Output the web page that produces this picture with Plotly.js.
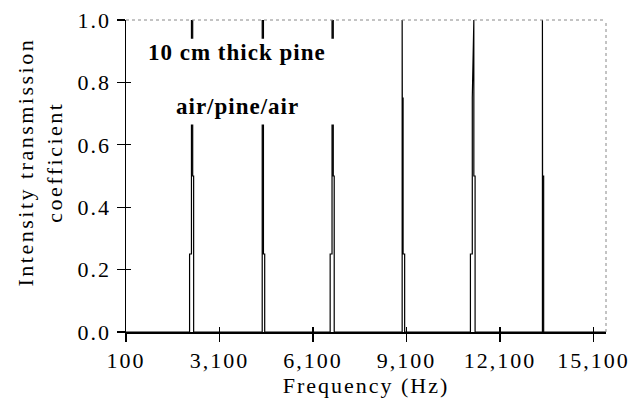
<!DOCTYPE html>
<html>
<head>
<meta charset="utf-8">
<script src="https://cdn.plot.ly/plotly-3.0.1.min.js"></script>
<style>
html,body{margin:0;padding:0;background:#fff;}
#chart{width:637px;height:411px;}
#chart .xtick text, #chart .ytick text, #chart .g-xtitle text { letter-spacing: 2px; }
#chart g.annotation[data-index="2"] text { letter-spacing: 2.5px; }
#chart g.annotation[data-index="0"] text, #chart g.annotation[data-index="1"] text { letter-spacing: 1px; }
</style>
</head>
<body>
<div id="chart"></div>
<script>
// Data (frequency in Hz, intensity transmission coefficient)
const freqHz = [100,
  2140, 2140, 2200, 2200, 2240, 2240, 2270, 2270,
  4470, 4470, 4510, 4510, 4550, 4550,
  6650, 6650, 6710, 6710, 6750, 6750, 6780, 6780,
  8960, 8960, 8965, 8990, 8990, 9040, 9040,
  11150, 11150, 11210, 11210, 11260, 11260, 11300, 11300,
  13460, 13460, 13465, 13500, 13500,
  15500];
const transmission = [0,
  0, 0.25, 0.25, 1, 1, 0.5, 0.5, 0,
  0, 1, 1, 0.25, 0.25, 0,
  0, 0.25, 0.25, 1, 1, 0.5, 0.5, 0,
  0, 1, 0.75, 0.75, 0.25, 0.25, 0,
  0, 0.25, 0.25, 0.75, 1, 0.5, 0.5, 0,
  0, 1, 0.5, 0.5, 0,
  0];
const xTickVals = [100, 3100, 6100, 9100, 12100, 15100];
const yTickVals = [0, 0.2, 0.4, 0.6, 0.8, 1.0];
const labelLines = ["10 cm thick pine", "air/pine/air"];

const serif = "Liberation Serif, Times New Roman, serif";
const xRange = [100, 15500];
const yRange = [0, 1];

const traces = [
  {x: freqHz, y: transmission, type: 'scatter', mode: 'lines',
   line: {color: '#000', width: 1.2}, hoverinfo: 'skip', showlegend: false},
  {x: [], y: [], xaxis: 'x2', yaxis: 'y2', type: 'scatter', mode: 'lines', showlegend: false}
];

const layout = {
  width: 637, height: 411,
  margin: {l: 126, r: 31, t: 20, b: 79},
  paper_bgcolor: '#fff', plot_bgcolor: '#fff',
  font: {family: serif, color: '#000', size: 22},
  xaxis: {
    range: xRange, tickvals: xTickVals, tickformat: ',d',
    showgrid: false, zeroline: false, showline: true, linecolor: '#000', linewidth: 1.5,
    ticks: 'outside', ticklen: 8, tickwidth: 1.3, tickcolor: '#000',
    tickfont: {family: serif, size: 22, color: '#000'},
    title: {text: 'Frequency (Hz)', font: {family: serif, size: 22, color: '#000'}, standoff: 2}
  },
  yaxis: {
    range: yRange, tickvals: yTickVals, tickformat: '.1f',
    showgrid: false, zeroline: false, showline: true, linecolor: '#000', linewidth: 1.5,
    ticks: 'outside', ticklen: 8, tickwidth: 1.3, tickcolor: '#000',
    ticklabelstandoff: 1,
    tickfont: {family: serif, size: 22, color: '#000'}
  },
  xaxis2: {range: xRange, overlaying: 'x', anchor: 'y', side: 'bottom', tickvals: xTickVals,
    ticks: 'inside', ticklen: 5, tickwidth: 1.3, tickcolor: '#000', showticklabels: false,
    showgrid: false, zeroline: false, showline: false},
  yaxis2: {range: yRange, overlaying: 'y', anchor: 'x', side: 'left', tickvals: yTickVals,
    ticks: 'inside', ticklen: 5, tickwidth: 1.3, tickcolor: '#000', showticklabels: false,
    showgrid: false, zeroline: false, showline: false},
  shapes: [
    {type: 'line', xref: 'paper', yref: 'paper', x0: 0, x1: 1, y0: 1, y1: 1,
     line: {color: '#888', width: 1, dash: 'dot'}, layer: 'above'},
    {type: 'line', xref: 'paper', yref: 'paper', x0: 1, x1: 1, y0: 0, y1: 1,
     line: {color: '#888', width: 1, dash: 'dot'}, layer: 'above'},
    {type: 'rect', xref: 'x', yref: 'y', x0: 500, x1: 7000, y0: 0.665, y1: 0.94,
     fillcolor: '#fff', line: {width: 0}, layer: 'above'}
  ],
  annotations: [
    {text: labelLines[0], xref: 'paper', yref: 'paper', x: (237-126)/480, y: (332-53)/312,
     showarrow: false, xanchor: 'center', yanchor: 'middle',
     font: {family: serif, size: 23, color: '#000', weight: 'bold'}},
    {text: labelLines[1], xref: 'paper', yref: 'paper', x: (237-126)/480, y: (332-106)/312,
     showarrow: false, xanchor: 'center', yanchor: 'middle',
     font: {family: serif, size: 23, color: '#000', weight: 'bold'}},
    {text: 'Intensity transmission<br>coefficient', xref: 'paper', yref: 'paper',
     x: (40-126)/480, y: (332-162)/312, showarrow: false, textangle: -90,
     xanchor: 'center', yanchor: 'middle',
     font: {family: serif, size: 22, color: '#000'}}
  ]
};

Plotly.newPlot('chart', traces, layout, {displayModeBar: false, staticPlot: true});
</script>
</body>
</html>
